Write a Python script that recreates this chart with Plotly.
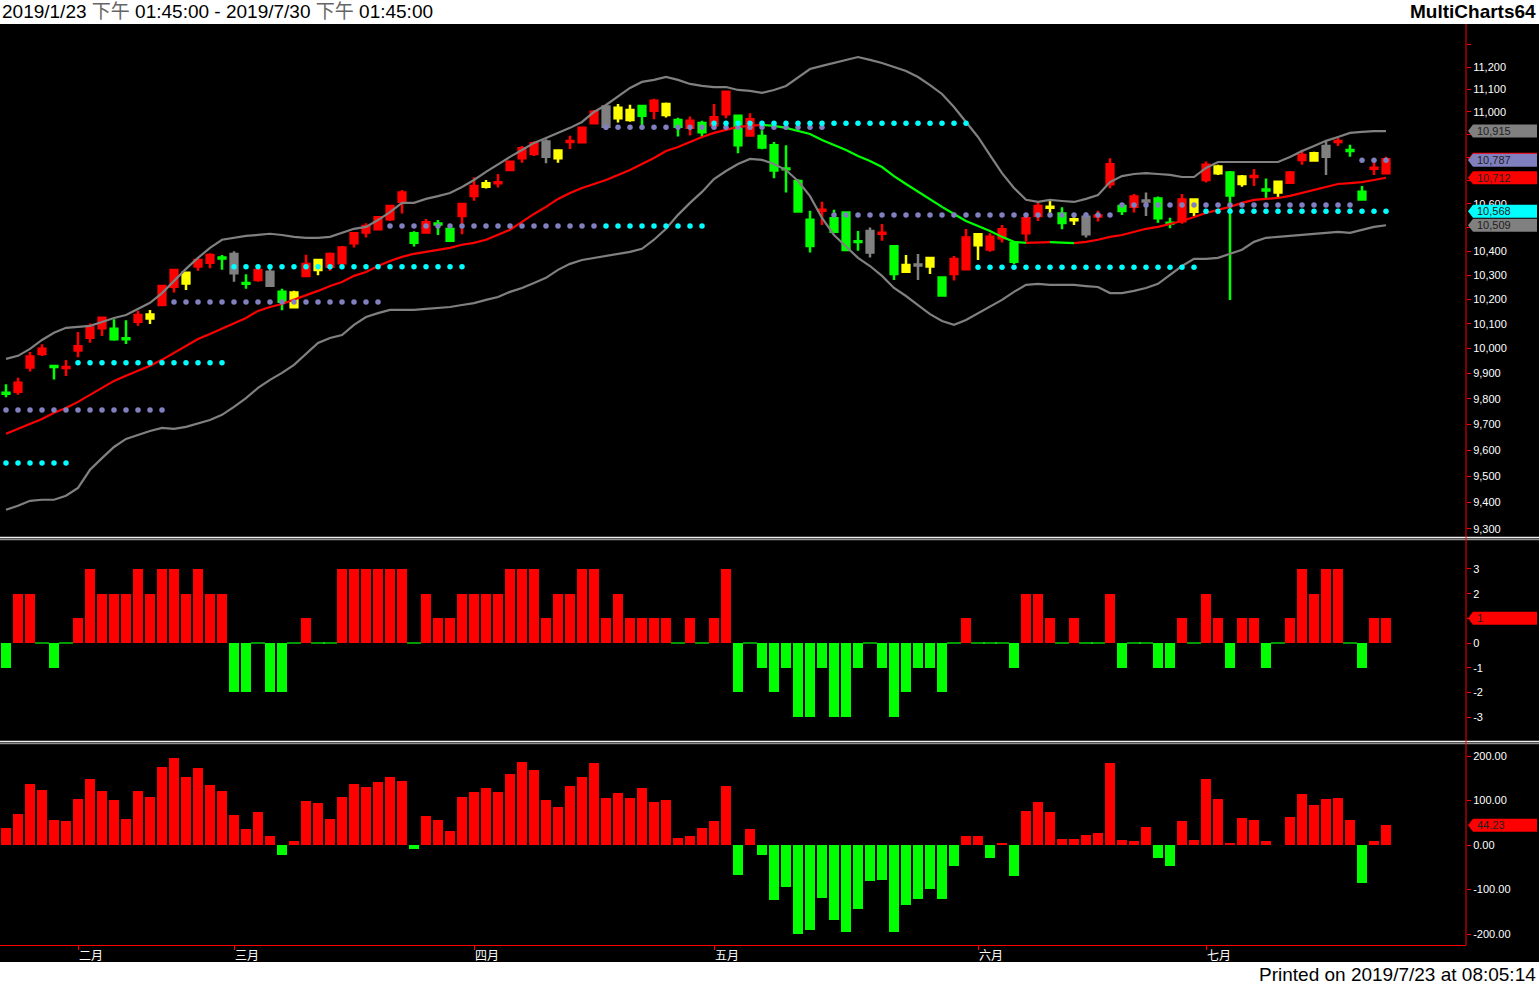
import math
import plotly.graph_objects as go

# ------------------------------------------------------------------ data
month_ticks = [6, 19, 39, 59, 81, 100]
month_labels = ["二月", "三月", "四月", "五月", "六月", "七月"]

# candle colour class: R red, G green, Y yellow, K gray
candle_tone = list("GRRRGRRRRG" "GRYRRYRRGK" "GRKGYRYRRR" "RRRRGRGGRR" "YRRRRKYRRR"
                   "KYYGRYGRGR" "RGRGGGGGRG" "GGKRGYKYGR" "RYRRGRRYGY" "KRRGRKGGRY"
                   "RYGYRGYRRY" "KRGGRR")

open_ = [9824, 9828, 9924, 9978, 9930, 9922, 9992, 10044, 10082, 10080,
         10042, 10109, 10122, 10177, 10252, 10266, 10336, 10352, 10373, 10388,
         10268, 10280, 10314, 10232, 10168, 10297, 10321, 10335, 10350, 10433,
         10478, 10492, 10534, 10609, 10475, 10478, 10516, 10493, 10548, 10633,
         10673, 10688, 10745, 10796, 10815, 10869, 10796, 10867, 10866, 10949,
         11023, 10971, 10964, 11026, 11004, 10986, 10964, 10930, 10950, 10941,
         10989, 10982, 10895, 10893, 10853, 10752, 10698, 10532, 10571, 10539,
         10563, 10442, 10485, 10473, 10421, 10314, 10344, 10336, 10290, 10305,
         10325, 10425, 10407, 10454, 10434, 10475, 10548, 10583, 10559, 10530,
         10545, 10546, 10684, 10591, 10588, 10614, 10623, 10520, 10526, 10566,
         10702, 10731, 10734, 10685, 10715, 10661, 10648, 10690, 10789, 10786,
         10850, 10867, 10832, 10652, 10751, 10731]
high = [9858, 9883, 9986, 10018, 9935, 9954, 10067, 10102, 10129, 10119,
        10115, 10154, 10157, 10260, 10324, 10314, 10370, 10391, 10384, 10400,
        10304, 10328, 10328, 10244, 10236, 10385, 10363, 10394, 10422, 10481,
        10517, 10548, 10591, 10659, 10484, 10535, 10531, 10493, 10599, 10714,
        10702, 10728, 10786, 10850, 10869, 10879, 10833, 10894, 10932, 11008,
        11026, 11034, 11031, 11026, 11058, 11041, 10974, 10979, 10960, 11035,
        11089, 10982, 10994, 10919, 10867, 10853, 10705, 10570, 10609, 10575,
        10563, 10485, 10500, 10514, 10421, 10384, 10388, 10371, 10294, 10380,
        10493, 10471, 10475, 10510, 10434, 10539, 10612, 10612, 10585, 10543,
        10563, 10571, 10796, 10599, 10642, 10648, 10631, 10541, 10642, 10623,
        10782, 10768, 10741, 10724, 10750, 10709, 10698, 10741, 10833, 10825,
        10876, 10884, 10855, 10676, 10786, 10803]
low = [9806, 9816, 9908, 9970, 9877, 9890, 9965, 10024, 10051, 10032,
       10019, 10092, 10100, 10173, 10228, 10239, 10318, 10329, 10322, 10273,
       10244, 10273, 10256, 10156, 10166, 10297, 10300, 10318, 10350, 10415,
       10457, 10489, 10527, 10559, 10419, 10478, 10468, 10440, 10471, 10613,
       10666, 10670, 10742, 10777, 10806, 10774, 10777, 10837, 10862, 10945,
       10920, 10953, 10956, 10942, 10967, 10975, 10891, 10896, 10890, 10941,
       10971, 10818, 10895, 10835, 10710, 10648, 10562, 10394, 10510, 10478,
       10402, 10402, 10373, 10444, 10280, 10310, 10280, 10305, 10216, 10278,
       10325, 10363, 10398, 10436, 10346, 10440, 10527, 10559, 10492, 10510,
       10457, 10525, 10667, 10552, 10563, 10548, 10520, 10496, 10515, 10548,
       10691, 10724, 10198, 10673, 10676, 10622, 10627, 10688, 10768, 10786,
       10724, 10850, 10803, 10618, 10724, 10731]
close = [9820, 9864, 9968, 10000, 9926, 9926, 10010, 10085, 10125, 10038,
         10038, 10136, 10138, 10255, 10321, 10310, 10363, 10384, 10369, 10308,
         10264, 10321, 10256, 10190, 10228, 10346, 10363, 10388, 10415, 10475,
         10506, 10543, 10591, 10648, 10435, 10522, 10512, 10444, 10599, 10676,
         10688, 10692, 10781, 10840, 10862, 10803, 10830, 10871, 10930, 11000,
         10934, 11018, 11008, 10982, 11049, 11035, 10934, 10960, 10910, 10976,
         11089, 10853, 10967, 10843, 10743, 10748, 10567, 10422, 10575, 10482,
         10405, 10438, 10394, 10477, 10305, 10342, 10340, 10371, 10216, 10367,
         10457, 10471, 10460, 10492, 10356, 10539, 10591, 10587, 10519, 10534,
         10471, 10550, 10770, 10569, 10631, 10610, 10539, 10516, 10619, 10619,
         10768, 10760, 10636, 10717, 10719, 10657, 10695, 10734, 10810, 10818,
         10803, 10871, 10828, 10618, 10755, 10792]

band_upper = [9959, 9971, 9999, 10035, 10064, 10084, 10088, 10092, 10108, 10124,
              10136, 10161, 10186, 10226, 10276, 10326, 10372, 10414, 10448, 10456,
              10464, 10468, 10473, 10468, 10460, 10456, 10456, 10460, 10477, 10494,
              10502, 10531, 10565, 10604, 10604, 10621, 10633, 10646, 10672, 10702,
              10737, 10771, 10802, 10832, 10863, 10885, 10907, 10929, 10955, 10999,
              11030, 11070, 11106, 11133, 11142, 11155, 11142, 11124, 11115, 11110,
              11110, 11097, 11093, 11084, 11097, 11115, 11155, 11191, 11205, 11218,
              11232, 11245, 11232, 11218, 11200, 11182, 11155, 11119, 11079, 11021,
              10955, 10889, 10810, 10732, 10668, 10617, 10608, 10617, 10612, 10608,
              10621, 10638, 10693, 10719, 10728, 10732, 10728, 10724, 10715, 10715,
              10754, 10780, 10780, 10780, 10780, 10780, 10780, 10802, 10828, 10850,
              10872, 10889, 10907, 10911, 10915, 10915]
band_lower = [9372, 9387, 9406, 9410, 9410, 9425, 9455, 9524, 9569, 9612,
              9643, 9659, 9674, 9686, 9682, 9690, 9702, 9717, 9737, 9768,
              9803, 9843, 9875, 9903, 9935, 9979, 10023, 10043, 10055, 10096,
              10128, 10144, 10157, 10157, 10157, 10161, 10165, 10169, 10177, 10185,
              10198, 10210, 10231, 10247, 10268, 10289, 10322, 10347, 10363, 10372,
              10380, 10389, 10397, 10410, 10448, 10494, 10553, 10604, 10651, 10706,
              10741, 10771, 10793, 10789, 10771, 10745, 10698, 10633, 10540, 10468,
              10422, 10372, 10338, 10297, 10247, 10214, 10177, 10140, 10112, 10096,
              10116, 10144, 10169, 10198, 10231, 10260, 10264, 10260, 10260, 10260,
              10255, 10251, 10226, 10226, 10235, 10247, 10264, 10301, 10338, 10368,
              10368, 10372, 10389, 10406, 10439, 10456, 10460, 10464, 10468, 10473,
              10477, 10481, 10477, 10490, 10502, 10509]
band_mid = [9663, 9682, 9702, 9721, 9745, 9764, 9788, 9815, 9843, 9871,
            9891, 9911, 9931, 9955, 9983, 10011, 10039, 10059, 10080, 10100,
            10124, 10153, 10169, 10181, 10198, 10218, 10235, 10255, 10272, 10297,
            10313, 10338, 10359, 10376, 10389, 10397, 10406, 10414, 10427, 10435,
            10448, 10468, 10490, 10523, 10557, 10587, 10621, 10646, 10668, 10685,
            10702, 10724, 10745, 10771, 10797, 10828, 10845, 10867, 10889, 10907,
            10920, 10933, 10938, 10942, 10938, 10929, 10915, 10902, 10876, 10854,
            10832, 10806, 10784, 10758, 10719, 10685, 10651, 10617, 10587, 10557,
            10527, 10506, 10485, 10460, 10439, 10435, 10437, 10438, 10435, 10434,
            10439, 10448, 10460, 10468, 10481, 10494, 10502, 10514, 10527, 10544,
            10561, 10574, 10587, 10604, 10617, 10621, 10625, 10634, 10646, 10659,
            10672, 10685, 10689, 10693, 10702, 10712]

# horizontal level segments (bar index ranges)
lav_start = [0, 14, 32, 50, 69, 93, 113]
lav_end = [13, 31, 49, 68, 92, 112, 115]
lav_level = [9756, 10189, 10506, 10932, 10552, 10595, 10787]
cyan_start = [0, 6, 19, 50, 59, 81, 100]
cyan_end = [5, 18, 38, 58, 80, 99, 115]
cyan_level = [9550, 9943, 10335, 10506, 10949, 10333, 10568]

hist1 = [-1, 2, 2, 0, -1, 0, 1, 3, 2, 2,
         2, 3, 2, 3, 3, 2, 3, 2, 2, -2,
         -2, 0, -2, -2, 0, 1, 0, 0, 3, 3,
         3, 3, 3, 3, 0, 2, 1, 1, 2, 2,
         2, 2, 3, 3, 3, 1, 2, 2, 3, 3,
         1, 2, 1, 1, 1, 1, 0, 1, 0, 1,
         3, -2, 0, -1, -2, -1, -3, -3, -1, -3,
         -3, -1, 0, -1, -3, -2, -1, -1, -2, 0,
         1, 0, 0, 0, -1, 2, 2, 1, 0, 1,
         0, 0, 2, -1, 0, 0, -1, -1, 1, 0,
         2, 1, -1, 1, 1, -1, 0, 1, 3, 2,
         3, 3, 0, -1, 1, 1]
hist2 = [38, 70, 137, 124, 56, 54, 103, 148, 121, 101,
         58, 121, 108, 175, 196, 153, 173, 135, 121, 67,
         36, 74, 20, -22, 9, 99, 94, 58, 108, 137,
         130, 142, 153, 144, -9, 65, 56, 31, 108, 119,
         128, 119, 160, 187, 169, 101, 85, 133, 153, 184,
         106, 117, 106, 128, 97, 101, 16, 20, 38, 54,
         132, -67, 37, -22, -124, -94, -200, -191, -119, -168,
         -196, -144, -81, -79, -196, -135, -121, -99, -121, -47,
         20, 20, -29, 4, -70, 76, 97, 74, 13, 13,
         22, 27, 184, 11, 9, 40, -29, -47, 54, 11,
         148, 103, 4, 61, 56, 9, 0, 63, 115, 90,
         103, 106, 56, -85, 9, 44.23]

price_ticks = [9300, 9400, 9500, 9600, 9700, 9800, 9900, 10000, 10100, 10200,
               10300, 10400, 10500, 10600, 10700, 10800, 10900, 11000, 11100, 11200, 11300]
# tick labels hidden behind the value tags in the reference
price_hidden = [10500, 10700, 10800, 10900, 11300]
hist1_ticks = [-3, -2, -1, 0, 1, 2, 3]
hist1_hidden = [1]
hist2_ticks = [-200, -100, 0, 100, 200]

# ------------------------------------------------------------------ geometry / style
W, H = 1539, 985
PR = 1466           # right edge of plot area (px)
PT, PB = 24, 945    # top / bottom of plot area (px)
PH = PB - PT
SLOT = 12.0         # px per bar
RED, GREEN, YELLOW, GRAY = "#FF0000", "#00FF00", "#FFFF00", "#808080"
LAV, CYAN = "#8080C0", "#00FFFF"
tone_color = {"R": RED, "G": GREEN, "Y": YELLOW, "K": GRAY}


def fy(py):
    return (PB - py) / PH


def fx(px):
    return px / PR


N = len(close)
xs = list(range(N))

fig = go.Figure()

# candles
for t, col in tone_color.items():
    idx = [i for i in range(N) if candle_tone[i] == t]
    fig.add_trace(go.Candlestick(
        x=idx, open=[open_[i] for i in idx], high=[high[i] for i in idx],
        low=[low[i] for i in idx], close=[close[i] for i in idx],
        increasing=dict(line=dict(color=col, width=2.5), fillcolor=col),
        decreasing=dict(line=dict(color=col, width=2.5), fillcolor=col),
        whiskerwidth=0, xaxis="x", yaxis="y", showlegend=False, hoverinfo="skip"))

# bollinger bands
for band in (band_upper, band_lower):
    fig.add_trace(go.Scatter(x=xs, y=band, mode="lines", line=dict(color=GRAY, width=2.2),
                             xaxis="x", yaxis="y", showlegend=False, hoverinfo="skip"))


# middle line coloured by direction
def seg_color(i):
    return RED if band_mid[i] >= band_mid[i - 1] else GREEN


runs = []
start, cur = 0, seg_color(1)
for i in range(2, N):
    c = seg_color(i)
    if c != cur:
        runs.append((start, i - 1, cur))
        start, cur = i - 1, c
runs.append((start, N - 1, cur))
for s, e, c in runs:
    fig.add_trace(go.Scatter(x=xs[s:e + 1], y=band_mid[s:e + 1], mode="lines",
                             line=dict(color=c, width=2.2), xaxis="x", yaxis="y",
                             showlegend=False, hoverinfo="skip"))


# dotted levels
def expand(starts, ends, levels):
    out = [None] * N
    for s, e, v in zip(starts, ends, levels):
        for i in range(s, e + 1):
            out[i] = v
    return out


for lv, col in ((expand(lav_start, lav_end, lav_level), LAV),
                (expand(cyan_start, cyan_end, cyan_level), CYAN)):
    fig.add_trace(go.Scatter(x=xs, y=lv, mode="markers", marker=dict(color=col, size=5.5),
                             xaxis="x", yaxis="y", showlegend=False, hoverinfo="skip"))

# histogram 1
BAR_W = 0.87
fig.add_trace(go.Bar(x=xs, y=hist1, width=BAR_W,
                     marker=dict(color=[RED if v > 0 else GREEN for v in hist1], line=dict(width=0)),
                     xaxis="x", yaxis="y2", showlegend=False, hoverinfo="skip"))
zero_idx = [i for i in range(N) if hist1[i] == 0]
fig.add_trace(go.Scatter(x=zero_idx, y=[hist1[i] for i in zero_idx], mode="markers",
                         marker=dict(symbol="line-ew", size=10, line=dict(color=GREEN, width=1.2)),
                         xaxis="x", yaxis="y2", showlegend=False, hoverinfo="skip"))

# histogram 2
fig.add_trace(go.Bar(x=xs, y=hist2, width=BAR_W,
                     marker=dict(color=[RED if v > 0 else GREEN for v in hist2], line=dict(width=0)),
                     xaxis="x", yaxis="y3", showlegend=False, hoverinfo="skip"))

# ------------------------------------------------------------------ axes
price_range = [math.log10(11200) - (537 - 67) / 5722.0, math.log10(11200) + (67 - 24) / 5722.0]
h1_range = [-(741 - 643) / 24.67, (643 - 540) / 24.67]
h2_range = [-(945 - 845) / 0.445, (845 - 745) / 0.445]

tick_font = dict(family="Liberation Sans, Arial", size=11, color="white")
common_y = dict(side="right", anchor="x", showgrid=False, zeroline=False, showline=False,
                ticks="outside", ticklen=4, tickcolor=RED, tickfont=tick_font,
                tickmode="array", automargin=False, fixedrange=True)


def fmt_num(v, dec=0):
    s = f"{abs(v):,.{dec}f}"
    return ("-" + s) if v < 0 else s


fig.update_layout(
    template="none",
    width=W, height=H,
    margin=dict(l=0, r=W - PR, t=PT, b=H - PB, pad=0),
    paper_bgcolor="white", plot_bgcolor="black",
    showlegend=False, hovermode=False, barmode="overlay", bargap=0,
    boxgap=0.25, boxgroupgap=0.25,
    xaxis=dict(domain=[0, 1], range=[-0.5, (PR - 6) / SLOT], anchor="y3",
               showgrid=False, zeroline=False, showline=True, linecolor=RED, linewidth=1,
               tickmode="array", tickvals=month_ticks, ticktext=month_labels,
               ticks="outside", ticklen=4, tickcolor=RED, ticklabelposition="outside right",
               tickfont=dict(family="Noto Sans CJK SC", size=12, color="white"),
               rangeslider=dict(visible=False), automargin=False, fixedrange=True),
    yaxis=dict(common_y, domain=[fy(537), 1], type="log", range=price_range,
               tickvals=price_ticks,
               ticktext=["" if v in price_hidden else fmt_num(v) for v in price_ticks]),
    yaxis2=dict(common_y, domain=[fy(741), fy(540)], range=h1_range,
                tickvals=hist1_ticks,
                ticktext=["" if v in hist1_hidden else fmt_num(v) for v in hist1_ticks]),
    yaxis3=dict(common_y, domain=[0, fy(745)], range=h2_range,
                tickvals=hist2_ticks, ticktext=[fmt_num(v, 2) for v in hist2_ticks]),
)

# ------------------------------------------------------------------ shapes & annotations
shapes = [
    dict(type="rect", xref="paper", yref="paper", x0=0, x1=fx(W), y0=fy(962), y1=1,
         fillcolor="black", line=dict(width=0), layer="below"),
    dict(type="line", xref="paper", yref="paper", x0=0, x1=fx(W), y0=fy(537.5), y1=fy(537.5),
         line=dict(color="#F0F0F0", width=1.5), layer="above"),
    dict(type="line", xref="paper", yref="paper", x0=0, x1=fx(W), y0=fy(539.5), y1=fy(539.5),
         line=dict(color="#909090", width=1.5), layer="above"),
    dict(type="line", xref="paper", yref="paper", x0=0, x1=fx(W), y0=fy(741.5), y1=fy(741.5),
         line=dict(color="#F0F0F0", width=1.5), layer="above"),
    dict(type="line", xref="paper", yref="paper", x0=0, x1=fx(W), y0=fy(743.5), y1=fy(743.5),
         line=dict(color="#909090", width=1.5), layer="above"),
    dict(type="line", xref="paper", yref="paper", x0=1, x1=1, y0=0, y1=1,
         line=dict(color=RED, width=1), layer="above"),
]
annotations = []


def tag(yref, value, color, text):
    shapes.append(dict(type="path", xref="paper", yref=yref, xsizemode="pixel", ysizemode="pixel",
                       xanchor=1, yanchor=value,
                       path="M 2,0 L 7,6.5 L 71,6.5 L 71,-6.5 L 7,-6.5 Z",
                       fillcolor=color, line=dict(width=0), layer="above"))
    if text:
        ay = math.log10(value) if yref == "y" else value
        annotations.append(dict(xref="paper", yref=yref, x=fx(1475), y=ay, xanchor="left",
                                yanchor="middle", text=text, showarrow=False,
                                font=dict(family="Liberation Sans, Arial", size=11, color="#202020")))


last_lav = expand(lav_start, lav_end, lav_level)[-1]
last_cyan = expand(cyan_start, cyan_end, cyan_level)[-1]
tag("y", band_upper[-1], GRAY, fmt_num(band_upper[-1]))
tag("y", close[-1], RED, "")
tag("y", last_lav, LAV, fmt_num(last_lav))
tag("y", band_mid[-1], RED, fmt_num(band_mid[-1]))
tag("y", last_cyan, CYAN, fmt_num(last_cyan))
tag("y", band_lower[-1], GRAY, fmt_num(band_lower[-1]))
tag("y2", hist1[-1], RED, fmt_num(hist1[-1]))
tag("y3", hist2[-1], RED, fmt_num(hist2[-1], 2))

title_font = dict(family="Liberation Sans, Arial, Noto Sans CJK TC", size=19, color="black")
annotations += [
    dict(xref="paper", yref="paper", x=0, y=fy(12), xanchor="left", yanchor="middle",
         text="2019/1/23 <span style='color:#666'>下午</span> 01:45:00 - 2019/7/30 "
              "<span style='color:#666'>下午</span> 01:45:00",
         showarrow=False, font=title_font),
    dict(xref="paper", yref="paper", x=fx(1538), y=fy(12), xanchor="right", yanchor="middle",
         text="<b>MultiCharts64</b>", showarrow=False, font=title_font),
    dict(xref="paper", yref="paper", x=fx(1538), y=fy(974), xanchor="right", yanchor="middle",
         text="Printed on 2019/7/23 at 08:05:14", showarrow=False, font=title_font),
]

fig.update_layout(shapes=shapes, annotations=annotations)
fig.write_html("out.html", config={"displayModeBar": False},
               post_script="document.body.style.margin='0px';document.body.style.overflow='hidden';")
